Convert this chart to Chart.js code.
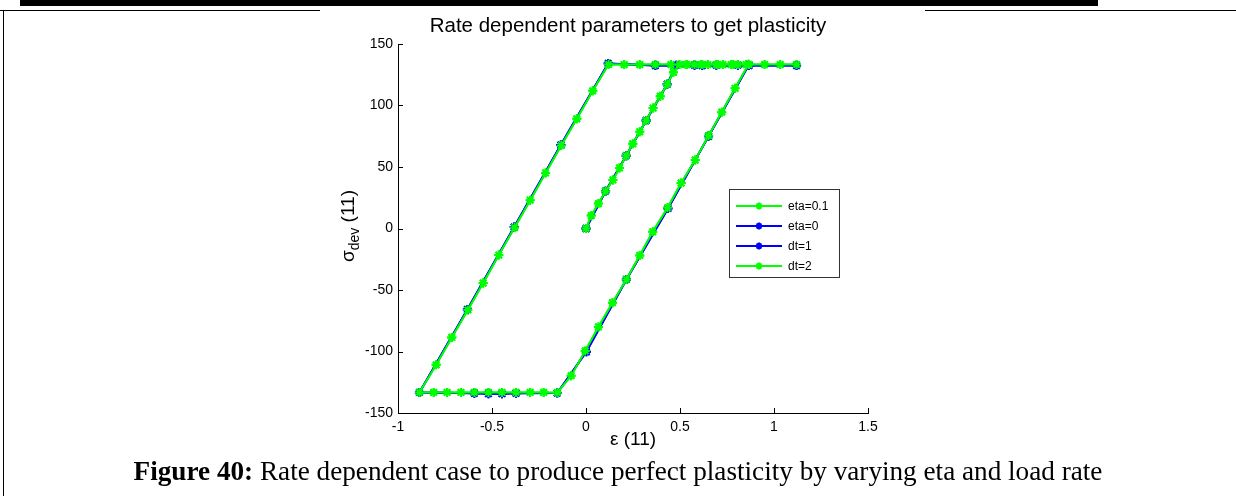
<!DOCTYPE html>
<html>
<head>
<meta charset="utf-8">
<script src="https://cdn.jsdelivr.net/npm/chart.js@4/dist/chart.umd.min.js"></script>
<style>
  html, body { margin: 0; padding: 0; background: #fff; }
  body { width: 1236px; height: 496px; position: relative; overflow: hidden; }
  #bar { position: absolute; left: 20px; top: 0; width: 1078px; height: 6px; background: #000; }
  .rule { position: absolute; top: 10px; height: 1px; background: #000; }
  #lv { position: absolute; left: 3px; top: 10px; width: 1px; height: 486px; background: #000; }
  #plotwrap { position: absolute; left: 0; top: 0; width: 1236px; height: 496px; }
  #caption { position: absolute; left: 0; top: 456px; width: 1236px; text-align: center; white-space: nowrap;
             font-family: "Liberation Serif", "Times New Roman", serif; font-size: 27.2px; line-height: 31px; color: #000; }
</style>
</head>
<body>
<div id="bar"></div>
<div class="rule" style="left:0;width:320px"></div>
<div class="rule" style="left:925px;width:311px"></div>
<div id="lv"></div>
<div id="plotwrap"><canvas id="c" width="1236" height="496"></canvas></div>
<div id="caption"><b>Figure 40:</b> Rate dependent case to produce perfect plasticity by varying eta and load rate</div>
<script>
// Strain / deviatoric stress history, viscous runs (green curves)
const epsVisc = [
  0, 0.028, 0.066, 0.104, 0.143, 0.178, 0.214, 0.249, 0.286, 0.320, 0.357, 0.395, 0.432, 0.465,
  0.497, 0.536, 0.577, 0.613, 0.648, 0.693, 0.728, 0.772, 0.808, 0.852, 0.865,
  0.793, 0.722, 0.652, 0.581, 0.506, 0.434, 0.355, 0.286, 0.215, 0.141, 0.066, -0.004, -0.079, -0.153,
  -0.225, -0.297, -0.372, -0.447, -0.519, -0.594, -0.665, -0.739, -0.810, -0.886,
  -0.797, -0.714, -0.629, -0.547, -0.464, -0.380, -0.297, -0.215, -0.132, -0.049, 0.036, 0.120,
  0.203, 0.286, 0.369, 0.452, 0.535, 0.618, 0.701, 0.784, 0.867, 0.950, 1.033, 1.120
];
const sigVisc = [
  0, 10.5, 20.3, 30.3, 39.5, 49.2, 59.2, 68.9, 78.6, 87.8, 97.9, 107.6, 117.3, 127.0,
  133.3, 133.3, 133.3, 133.3, 133.3, 133.3, 133.3, 133.3, 133.3, 133.3, 133.5,
  114.0, 94.6, 75.4, 55.7, 37.0, 16.8, -2.7, -21.9, -41.4, -60.3, -80.0, -99.5, -119.7, -133.5,
  -133.3, -133.3, -133.3, -133.3, -133.3, -133.3, -133.3, -133.3, -133.3, -133.3,
  -110.8, -88.6, -66.2, -44.3, -21.6, 0.8, 23.0, 45.2, 67.5, 89.2, 111.9, 133.5,
  133.3, 133.3, 133.3, 133.3, 133.3, 133.3, 133.3, 133.3, 133.3, 133.3, 133.3, 133.3
];
// Rate independent / unit time step runs (blue curves)
const epsInv = [
  0, 0.104, 0.214, 0.320, 0.432, 0.480, 0.577, 0.693, 0.808, 0.865,
  0.652, 0.436, 0.215, 0.002, -0.153,
  -0.372, -0.447, -0.519, -0.594, -0.886,
  -0.631, -0.382, -0.134, 0.118,
  0.369, 0.618, 0.867, 1.120
];
const sigInv = [
  0, 30.3, 59.2, 87.8, 117.3, 132.8, 132.8, 132.8, 132.8, 132.8,
  75.0, 16.3, -41.4, -100.2, -133.8,
  -134.0, -134.3, -134.3, -134.0, -133.3,
  -65.8, 1.2, 67.9, 134.2,
  132.5, 132.5, 132.5, 132.5
];

const seriesNames = ['eta=0.1', 'eta=0', 'dt=1', 'dt=2'];
const seriesColors = ['#00ff00', '#0000ff', '#0000ff', '#00ff00'];
const xTickValues = [-1, -0.5, 0, 0.5, 1, 1.5];
const xTickLabels = ['-1', '-0.5', '0', '0.5', '1', '1.5'];
const yTickValues = [-150, -100, -50, 0, 50, 100, 150];
const yTickLabels = ['-150', '-100', '-50', '0', '50', '100', '150'];
const titleText = 'Rate dependent parameters to get plasticity';

const toPts = (xs, ys) => xs.map((v, i) => ({ x: v, y: ys[i] }));
const seriesData = [toPts(epsVisc, sigVisc), toPts(epsInv, sigInv), toPts(epsInv, sigInv), toPts(epsVisc, sigVisc)];

const FONT = '"Liberation Sans", Arial, sans-serif';

// MATLAB-style decorations: inward ticks, title, axis labels and boxed legend
const decor = {
  id: 'decor',
  afterDraw(chart) {
    const { ctx, chartArea: a, scales: { x, y } } = chart;
    ctx.save();
    ctx.strokeStyle = '#000';
    ctx.lineWidth = 1;
    xTickValues.forEach(v => {
      const p = Math.round(x.getPixelForValue(v)) + 0.5;
      ctx.beginPath(); ctx.moveTo(p, a.bottom); ctx.lineTo(p, a.bottom - 5); ctx.stroke();
    });
    yTickValues.forEach(v => {
      const p = Math.round(y.getPixelForValue(v)) + 0.5;
      ctx.beginPath(); ctx.moveTo(a.left, p); ctx.lineTo(a.left + 5, p); ctx.stroke();
    });

    ctx.fillStyle = '#000';
    ctx.textAlign = 'center';
    ctx.textBaseline = 'alphabetic';
    ctx.font = '20.5px ' + FONT;
    ctx.fillText(titleText, 628, 32);

    // x label
    ctx.font = '19px ' + FONT;
    ctx.fillText('\u03b5 (11)', 633, 445);

    // y label with subscript, rotated
    ctx.save();
    ctx.translate(354, 226);
    ctx.rotate(-Math.PI / 2);
    ctx.textAlign = 'left';
    const big = '19px ' + FONT, small = '14px ' + FONT;
    ctx.font = big; const w1 = ctx.measureText('\u03c3').width;
    ctx.font = small; const w2 = ctx.measureText('dev').width;
    ctx.font = big; const w3 = ctx.measureText(' (11)').width;
    let sx = -(w1 + w2 + w3) / 2;
    ctx.font = big; ctx.fillText('\u03c3', sx, 0); sx += w1;
    ctx.font = small; ctx.fillText('dev', sx, 5); sx += w2;
    ctx.font = big; ctx.fillText(' (11)', sx, 0);
    ctx.restore();

    // legend
    const lx = 729.5, ly = 189.5, lw = 110, lh = 88;
    ctx.fillStyle = '#fff';
    ctx.fillRect(lx, ly, lw, lh);
    ctx.strokeStyle = '#333';
    ctx.lineWidth = 1;
    ctx.strokeRect(lx, ly, lw, lh);
    ctx.font = '12px ' + FONT;
    ctx.textAlign = 'left';
    ctx.textBaseline = 'middle';
    chart.data.datasets.forEach((ds, i) => {
      const ry = 206 + i * 20;
      ctx.strokeStyle = ds.borderColor;
      ctx.lineWidth = 2;
      ctx.beginPath(); ctx.moveTo(736, ry); ctx.lineTo(782, ry); ctx.stroke();
      const r = 3.5;
      ctx.beginPath();
      ctx.moveTo(759 - r, ry); ctx.lineTo(759 + r, ry);
      ctx.moveTo(759, ry - r); ctx.lineTo(759, ry + r);
      ctx.moveTo(759 - r * 0.7, ry - r * 0.7); ctx.lineTo(759 + r * 0.7, ry + r * 0.7);
      ctx.moveTo(759 - r * 0.7, ry + r * 0.7); ctx.lineTo(759 + r * 0.7, ry - r * 0.7);
      ctx.stroke();
      ctx.fillStyle = '#000';
      ctx.fillText(ds.label, 788, ry + 1);
    });
    ctx.restore();
  }
};

const drawOrder = [4, 3, 2, 1];

new Chart(document.getElementById('c'), {
  type: 'scatter',
  data: {
    datasets: seriesNames.map((name, i) => ({
      label: name,
      data: seriesData[i],
      showLine: true,
      borderColor: seriesColors[i],
      backgroundColor: seriesColors[i],
      borderWidth: 2,
      pointStyle: 'star',
      pointRadius: 4.5,
      pointBorderWidth: 2,
      pointBorderColor: seriesColors[i],
      tension: 0,
      order: drawOrder[i]
    }))
  },
  options: {
    responsive: false,
    animation: false,
    events: [],
    layout: { padding: { left: 0, right: 368, top: 44, bottom: 53 } },
    plugins: { legend: { display: false }, tooltip: { enabled: false }, title: { display: false } },
    scales: {
      x: {
        type: 'linear', min: -1, max: 1.5,
        afterFit: s => { s.height = 30; },
        afterBuildTicks: s => { s.ticks = xTickValues.map(v => ({ value: v })); },
        grid: { display: false, drawTicks: false },
        border: { display: true, color: '#000', width: 1 },
        ticks: { padding: 6, color: '#000', font: { family: FONT, size: 14 },
                 callback: (v, i) => xTickLabels[i] }
      },
      y: {
        type: 'linear', min: -150, max: 150,
        afterFit: s => { s.width = 398; },
        afterBuildTicks: s => { s.ticks = yTickValues.map(v => ({ value: v })); },
        grid: { display: false, drawTicks: false },
        border: { display: true, color: '#000', width: 1 },
        ticks: { padding: 5, color: '#000', font: { family: FONT, size: 14 },
                 callback: (v, i) => yTickLabels[i] }
      }
    }
  },
  plugins: [decor]
});
</script>
</body>
</html>
